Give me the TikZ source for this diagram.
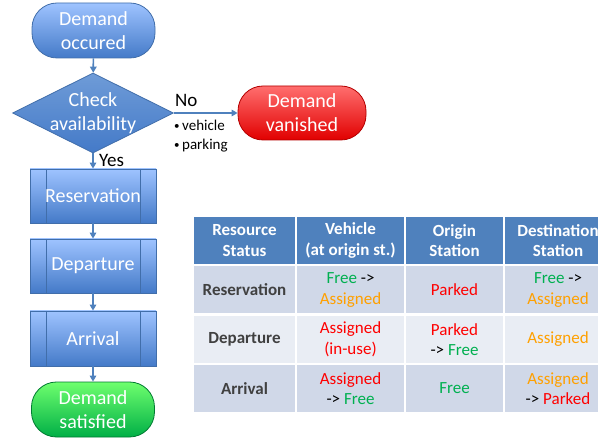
\documentclass[tikz,border=0pt]{standalone}
\usepackage{fontspec}
\setmainfont{Carlito}
\usetikzlibrary{arrows.meta,positioning,shapes.geometric,calc}
\definecolor{flowblue}{RGB}{79,129,189}
\definecolor{edgeblue}{RGB}{65,110,170}
\definecolor{lightblue}{RGB}{158,195,255}
\definecolor{midblue}{RGB}{68,122,200}
\definecolor{lightgreen}{RGB}{110,255,110}
\definecolor{deepgreen}{RGB}{0,175,70}
\definecolor{lightred}{RGB}{255,110,110}
\definecolor{deepred}{RGB}{225,0,0}
\definecolor{okgreen}{RGB}{0,176,80}
\definecolor{warnorange}{RGB}{255,160,0}
\definecolor{badred}{RGB}{255,0,0}
\definecolor{rowdark}{RGB}{208,216,232}
\definecolor{rowlight}{RGB}{233,237,244}
\definecolor{cellgray}{RGB}{64,64,64}
\newcommand{\txtgreen}[1]{\textcolor{okgreen}{#1}}
\newcommand{\txtorange}[1]{\textcolor{warnorange}{#1}}
\newcommand{\txtred}[1]{\textcolor{badred}{#1}}
\newcommand{\smallbullet}{{\fontsize{11}{11}\selectfont\raisebox{1pt}{•}}\,}

\begin{document}
\begin{tikzpicture}[x=1pt, y=-1pt,
  term/.style={draw=edgeblue, line width=0.8pt, rounded corners=25pt, minimum width=123, minimum height=55, inner sep=0pt, font=\fontsize{20}{24}\selectfont, text=white, align=center},
  bluefill/.style={top color=lightblue, bottom color=midblue},
  proc/.style={draw=edgeblue, line width=0.8pt, bluefill, minimum width=126, minimum height=54, inner sep=0pt, font=\fontsize{20}{24}\selectfont, text=white,
    path picture={\draw[edgeblue, line width=0.6pt] ([xshift=16pt]path picture bounding box.north west) -- ([xshift=16pt]path picture bounding box.south west);
                  \draw[edgeblue, line width=0.6pt] ([xshift=-16pt]path picture bounding box.north east) -- ([xshift=-16pt]path picture bounding box.south east);}},
  decision/.style={diamond, draw=edgeblue, line width=0.8pt, top color=flowblue!60!lightblue, bottom color=midblue, minimum width=161, minimum height=80, inner sep=0pt},
  wtxt/.style={inner sep=0pt, font=\fontsize{20}{24}\selectfont, text=white, align=center},
  flow/.style={draw=flowblue, line width=1.6pt, -{Triangle[length=6pt, width=6.5pt]}},
  lbl/.style={font=\fontsize{19}{23}\selectfont, inner sep=0pt},
  cell/.style={draw=white, line width=2pt, minimum height=49, inner sep=0pt, align=center, font=\fontsize{17}{20.5}\selectfont}]
\clip (0,0) rectangle (598,441);
% flow chart
\node[term, bluefill] (occur) at (93.5,30.5) {Demand\\occured};
\node[decision] (check) at (93,113) {};
\node[wtxt] (checktxt) at (check.center) {Check\\availability};
\node[term, top color=lightred, bottom color=deepred, draw=deepred!80!black, minimum width=128, minimum height=54] (vanish) at (302,113) {Demand\\vanished};
\node[proc] (reserve) at (93,196) {Reservation};
\node[proc] (depart) at (93,266) {Departure};
\node[proc, minimum height=55] (arrive) at (93,338.5) {Arrival};
\node[term, top color=lightgreen, bottom color=deepgreen, draw=deepgreen!70!black] (satisfy) at (93,409.5) {Demand\\satisfied};
\draw[flow] (occur) -- (check);
\draw[flow] (check) -- (vanish);
\draw[flow] (check) -- (reserve);
\draw[flow] (reserve) -- (depart);
\draw[flow] (depart) -- (arrive);
\draw[flow] (arrive) -- (satisfy);
\node[lbl, anchor=base west] (no) at (175,107) {No};
\node[lbl, anchor=base west] (yes) at (99,167) {Yes};
\node[font=\fontsize{15}{19}\selectfont, anchor=north west, align=left, inner sep=0pt] (reasons) at (174,120) {\smallbullet vehicle\\\smallbullet parking};
% table
\foreach \c/\x/\w/\t in {1/244.5/103/{Resource\\Status}, 2/350.5/109/{Vehicle\\(at origin st.)}, 3/454.5/99/{Origin\\Station}, 4/558/108/{Destination\\Station}}
  { \node[cell, fill=flowblue, text=white, font=\fontsize{17}{20.5}\selectfont\bfseries, minimum width=\w] (h\c) at (\x,240.5) {\t}; }
\foreach \r/\y/\f/\a/\b/\c/\d in {
  1/290/rowdark/Reservation/{\txtgreen{Free} ->\\\txtorange{Assigned}}/{\txtred{Parked}}/{\txtgreen{Free} ->\\\txtorange{Assigned}},
  2/339.5/rowlight/Departure/{\txtred{Assigned}\\\txtred{(in-use)}}/{\txtred{Parked}\\-> \txtgreen{Free}}/{\txtorange{Assigned}},
  3/388.5/rowdark/Arrival/{\txtred{Assigned}\\-> \txtgreen{Free}}/{\txtgreen{Free}}/{\txtorange{Assigned}\\-> \txtred{Parked}}}
  { \node[cell, fill=\f, text=cellgray, font=\fontsize{17}{20.5}\selectfont\bfseries, minimum width=103] (r\r c1) at (244.5,\y) {\a};
    \node[cell, fill=\f, minimum width=109] (r\r c2) at (350.5,\y) {\b};
    \node[cell, fill=\f, minimum width=99] (r\r c3) at (454.5,\y) {\c};
    \node[cell, fill=\f, minimum width=108] (r\r c4) at (558,\y) {\d}; }
\end{tikzpicture}
\end{document}
